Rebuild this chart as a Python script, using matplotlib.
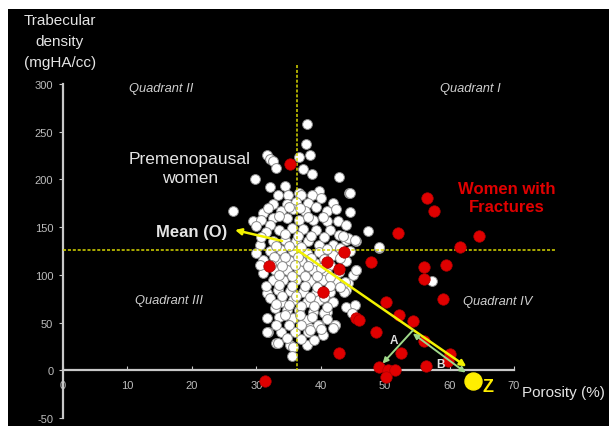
import matplotlib
matplotlib.use("Agg")
import matplotlib.pyplot as plt
from matplotlib.patches import Rectangle

plt.rcParams['font.family'] = ['Liberation Sans', 'DejaVu Sans']
plt.rcParams['axes.unicode_minus'] = False

# ---------------- data ----------------
x_ticks = [0, 10, 20, 30, 40, 50, 60, 70]
x_tick_labels = ["0", "10", "20", "30", "40", "50", "60", "70"]
y_ticks = [-50, 0, 50, 100, 150, 200, 250, 300]
y_tick_labels = ["-50", "0", "50", "100", "150", "200", "250", "300"]

# premenopausal women (porosity %, trabecular density)
pre_x = [37.8, 37.7, 31.6, 32.1, 32.6, 36.7, 38.4, 33.1, 37.2, 38.6, 42.8, 29.8,
         32.1, 34.4, 36.7, 39.8, 44.4, 33.4, 34.9, 37.0, 38.6, 40.1,
         32.6, 34.7, 36.2, 38.0, 39.3, 41.9, 44.5,
         26.4, 31.1, 33.9, 35.7, 37.5, 40.9, 42.4,
         29.5, 30.8, 32.6, 34.7, 36.7, 38.8, 40.9, 42.7, 44.0,
         30.0, 32.1, 33.6, 35.5, 37.3, 39.3, 41.4, 42.9, 47.3,
         30.5, 32.6, 34.4, 36.2, 38.0, 39.8, 41.9, 44.0, 45.5,
         32.1, 33.9, 35.7, 37.8, 39.8, 41.9, 44.5, 49.1,
         31.1, 33.4, 35.2, 37.0, 39.1, 41.4, 44.0,
         31.1, 32.9, 34.7, 36.7, 38.8, 40.9, 42.9, 45.5,
         32.6, 34.2, 36.2, 38.3, 40.4, 42.2, 44.2,
         31.6, 33.4, 35.2, 37.3, 39.3, 41.4, 44.0,
         32.1, 33.9, 35.7, 37.8, 39.8, 41.9,
         32.9, 34.7, 36.7, 38.8, 40.9, 44.0, 45.3,
         31.6, 33.6, 35.7, 37.8, 39.8, 42.2,
         31.8, 33.9, 36.0, 38.0, 40.4,
         33.1, 35.2, 37.8,
         31.7, 33.4, 35.7, 35.6, 38.3, 39.6, 40.5, 42.2, 44.8, 45.0, 45.5,
         38.3, 40.1, 41.9, 44.5, 44.2, 43.4, 45.3, 57.2, 43.6, 43.7, 49.0,
         31.8, 35.0, 36.8, 40.3, 33.5, 38.0, 31.5, 34.5, 36.5, 38.5, 40.5, 30.8,
         33.0, 35.0, 37.0, 41.0, 43.0, 30.0, 32.8, 34.5, 36.5, 38.5, 40.5, 43.0,
         30.5, 32.3, 34.0, 36.0, 38.0, 40.0, 33.5, 35.5, 37.5, 39.5, 41.5,
         31.5, 33.5, 35.5, 37.5, 39.5, 41.5, 43.0, 34.0, 36.2, 38.4, 40.5,
         33.0, 35.0, 37.0, 39.0, 41.0, 34.5, 36.8, 38.6, 41.0, 33.0, 35.0, 37.0,
         34.8, 37.0, 39.0]
pre_y = [258.6, 237.6, 225.6, 221.1, 219.3, 224.0, 225.6, 211.6, 210.6, 205.3, 202.5, 200.0,
         192.0, 193.0, 186.0, 187.8, 186.0, 183.5, 183.5, 184.2, 183.5, 180.7,
         174.4, 174.4, 176.5, 175.1, 170.9, 175.5, 166.0,
         166.7, 165.0, 166.7, 168.5, 166.7, 166.7, 168.5,
         156.2, 157.9, 159.7, 159.7, 157.9, 157.9, 156.9, 156.2, 152.7,
         150.9, 152.7, 147.4, 149.2, 148.5, 147.4, 147.4, 142.1, 145.6,
         131.6, 135.1, 136.9, 135.1, 135.1, 131.6, 131.6, 136.9, 135.1,
         124.6, 126.4, 124.6, 122.8, 123.9, 121.1, 124.6, 128.1,
         115.8, 115.8, 114.1, 114.1, 112.3, 110.6, 114.1,
         101.8, 105.3, 105.3, 105.3, 105.3, 101.8, 103.5, 105.3,
         94.8, 94.8, 94.8, 93.7, 94.8, 93.7, 91.3,
         80.7, 84.2, 83.2, 82.5, 80.7, 82.5, 84.2,
         75.5, 72.0, 73.7, 72.0, 73.7, 72.0,
         65.0, 63.2, 63.2, 61.4, 61.4, 66.7, 68.5,
         54.4, 56.0, 54.4, 52.7, 47.4, 47.4,
         40.4, 40.4, 40.4, 40.4, 36.9,
         28.1, 26.4, 26.4,
         40.4, 28.1, 24.6, 14.7, 43.9, 47.4, 59.7, 47.4, 59.7, 100.0, 105.3,
         42.0, 43.0, 44.0, 186.0, 138.6, 140.4, 136.8, 93.7, 82.5, 93.0, 128.8,
         170.0, 171.0, 170.0, 161.0, 162.0, 161.0, 145.0, 143.0, 141.0, 141.0, 140.0, 140.0,
         130.0, 130.0, 129.0, 127.0, 128.0, 123.0, 119.0, 119.0, 119.0, 118.0, 117.0, 118.0,
         110.0, 110.0, 109.0, 110.0, 109.0, 107.0, 100.0, 99.0, 99.0, 99.0, 98.0,
         88.0, 89.0, 88.0, 88.0, 87.0, 88.0, 87.0, 78.0, 78.0, 77.0, 77.0,
         69.0, 68.0, 67.0, 67.0, 66.0, 58.0, 58.0, 56.0, 54.0, 47.0, 47.0, 47.0,
         34.0, 33.0, 32.0]

# women with fractures
frac_x = [35.2, 56.5, 57.6, 52.0, 64.5, 61.6, 43.6, 41.0, 42.8, 32.0, 47.8, 56.0,
          59.4, 56.0, 40.4, 59.0, 50.1, 52.2, 54.4, 45.4, 46.0, 48.6, 56.1, 52.4,
          42.8, 60.0, 59.7, 49.1, 50.4, 51.5, 50.2, 56.4, 31.3]
frac_y = [216.5, 180.7, 166.7, 143.5, 141.0, 128.8, 123.6, 113.4, 106.3, 108.8, 113.8, 108.0,
          110.5, 95.8, 82.5, 75.0, 71.5, 58.0, 52.0, 54.8, 53.2, 40.0, 31.0, 18.3,
          18.3, 17.0, 9.5, 3.6, 0.0, 0.0, -7.0, 5.0, -11.0]

mean_O = (36.3, 126.3)
point_Z = (63.6, -10.8)
arrow_OZ_end = (62.6, 3.9)
label_arrow_start = (34.0, 135.5)
label_arrow_end = (26.7, 147.0)
A_start, A_end = (54.3, 41.8), (49.6, 7.1)
B_start, B_end = (54.3, 38.6), (62.5, -2.4)
vline_y = (320, 0)
hline_x = (0, 76.3)

# ---------------- figure ----------------
fig = plt.figure(figsize=(6.15, 4.35), dpi=100, facecolor='white')
bg = Rectangle((8 / 615, 1 - 427 / 435), 601 / 615, 417 / 435,
               transform=fig.transFigure, facecolor='black',
               edgecolor='none', zorder=-10)
fig.patches.append(bg)
ax = fig.add_axes([63 / 615, 1 - 419 / 435, 451 / 615, 334 / 435])
ax.set_zorder(1)
ax.set_facecolor('none')
ax.set_xlim(0, 70)
ax.set_ylim(-50, 300)

spine_col = '#c8c8c8'
for s in ['top', 'right']:
    ax.spines[s].set_visible(False)
ax.spines['bottom'].set_position(('data', 0))
ax.spines['bottom'].set_color(spine_col)
ax.spines['left'].set_color(spine_col)
ax.spines['bottom'].set_linewidth(1.6)
ax.spines['left'].set_linewidth(1.6)

ax.set_xticks(x_ticks)
ax.set_xticklabels(x_tick_labels)
ax.set_yticks(y_ticks)
ax.set_yticklabels(y_tick_labels)
ax.tick_params(axis='x', direction='in', length=3, color=spine_col, labelcolor='#bdbdbd',
               labelsize=8, pad=7)
ax.tick_params(axis='y', direction='out', length=3, color=spine_col, labelcolor='#bdbdbd',
               labelsize=8, pad=4)

# points
ax.scatter(pre_x, pre_y, s=50, facecolor='white', edgecolor='#8a8a8a', linewidth=0.7,
           zorder=3, clip_on=False)
ax.scatter(frac_x, frac_y, s=68, facecolor='#e00000', edgecolor='#b00000', linewidth=0.5,
           zorder=5, clip_on=False)

# dashed mean lines
dash_col = '#d8d800'
ax.plot([mean_O[0], mean_O[0]], list(vline_y), color=dash_col, lw=1.1,
        linestyle=(0, (2, 1.2)), zorder=4, clip_on=False)
ax.plot(list(hline_x), [mean_O[1], mean_O[1]], color=dash_col, lw=1.1,
        linestyle=(0, (2, 1.2)), zorder=4, clip_on=False)

yellow = '#f2f200'
ax.annotate('', xy=arrow_OZ_end, xytext=mean_O,
            arrowprops=dict(arrowstyle='-|>', color=yellow, lw=1.8, mutation_scale=9,
                            shrinkA=0, shrinkB=0), zorder=6)
ax.annotate('', xy=label_arrow_end, xytext=label_arrow_start,
            arrowprops=dict(arrowstyle='-|>', color=yellow, lw=1.8, mutation_scale=9,
                            shrinkA=0, shrinkB=0), zorder=6)

green = '#9fd98a'
ax.annotate('', xy=A_end, xytext=A_start,
            arrowprops=dict(arrowstyle='-|>', color=green, lw=1.4, mutation_scale=8,
                            shrinkA=0, shrinkB=0), zorder=6)
ax.annotate('', xy=B_end, xytext=B_start,
            arrowprops=dict(arrowstyle='<|-|>', color=green, lw=1.4, mutation_scale=8,
                            shrinkA=0, shrinkB=0), zorder=6)
ax.text(51.3, 32, 'A', color='#e0e0e0', fontsize=8.5, fontweight='bold', ha='center',
        va='center', zorder=7)
ax.text(58.6, 6.5, 'B', color='#e0e0e0', fontsize=8.5, fontweight='bold', ha='center',
        va='center', zorder=7)

ax.scatter([point_Z[0]], [point_Z[1]], s=150, color='#ffee00', zorder=7, clip_on=False)
ax.text(65.9, -17.5, 'Z', color='#ffee00', fontsize=13, fontweight='bold',
        ha='center', va='center', zorder=7, clip_on=False)

# texts
txt = '#e4e4e4'
ax.text(19.7, 212, 'Premenopausal\nwomen', color=txt, fontsize=12.5, ha='center',
        va='center', linespacing=1.4)
ax.text(25.5, 145.5, 'Mean (O)', color=txt, fontsize=12, fontweight='bold',
        ha='right', va='center')
ax.text(68.8, 181, 'Women with\nFractures', color='#e00000', fontsize=12,
        fontweight='bold', ha='center', va='center', linespacing=1.3, clip_on=False)
q_col = '#cfcfcf'
ax.text(15.3, 296, 'Quadrant II', color=q_col, fontsize=9.3, style='italic',
        ha='center', va='center')
ax.text(63.3, 296, 'Quadrant I', color=q_col, fontsize=9.3, style='italic',
        ha='center', va='center')
ax.text(16.4, 73.9, 'Quadrant III', color=q_col, fontsize=9.3, style='italic',
        ha='center', va='center')
ax.text(67.4, 72.1, 'Quadrant IV', color=q_col, fontsize=9.3, style='italic',
        ha='center', va='center', clip_on=False)

fig.text(60 / 615, 1 - 42 / 435, 'Trabecular\ndensity\n(mgHA/cc)', color=txt,
         fontsize=11, ha='center', va='center', linespacing=1.6)
fig.text(522 / 615, 1 - 393 / 435, 'Porosity (%)', color=txt, fontsize=11,
         ha='left', va='center')

fig.savefig('out.png', dpi=100, facecolor='white')
